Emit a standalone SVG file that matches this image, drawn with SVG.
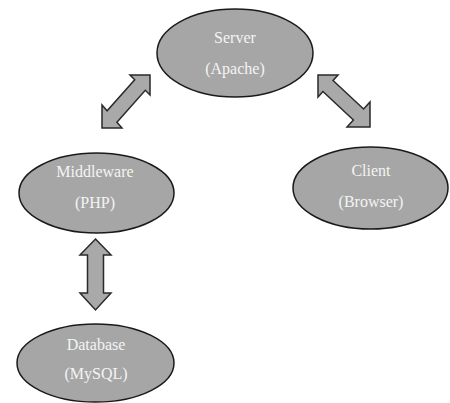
<svg xmlns="http://www.w3.org/2000/svg" width="450" height="403" viewBox="0 0 450 403">
<style>
.node ellipse{fill:#a6a6a6;stroke:#1a1a1a;stroke-width:1.5}
.node text{font-family:"Liberation Serif","Times New Roman",serif;font-size:16px;fill:#f4f4f4;text-anchor:middle}
.arrow{fill:#a9a9a9;stroke:#2a2a2a;stroke-width:1.5;stroke-linejoin:miter}
</style>
<rect width="450" height="403" fill="#ffffff"/>
<g id="connectors">
<polygon class="arrow" points="150,75 150,95 145.3,90.3 116.9,122.2 122,128 102,128 102,105 107.1,110.8 134.7,79.7 130,75"/>
<polygon class="arrow" points="318,75 338,75 333.05,80.45 363.6,109 370,102 370,127 347,127 353.4,120 322.95,91.55 318,97"/>
<polygon class="arrow" points="95.5,239 111,255 103.5,255 103.5,293 111,293 95.5,310 80,293 87.5,293 87.5,255 80,255"/>
</g>
<g id="server" class="node">
<ellipse cx="235" cy="53" rx="78" ry="44"/>
<text x="235" y="43">Server</text>
<text x="235" y="74">(Apache)</text>
</g>
<g id="middleware" class="node">
<ellipse cx="96.5" cy="193" rx="77.5" ry="40"/>
<text x="95" y="177">Middleware</text>
<text x="95" y="208">(PHP)</text>
</g>
<g id="client" class="node">
<ellipse cx="370.5" cy="188" rx="77.5" ry="41"/>
<text x="371" y="176">Client</text>
<text x="371" y="207">(Browser)</text>
</g>
<g id="database" class="node">
<ellipse cx="95.5" cy="363" rx="78.5" ry="39"/>
<text x="96" y="350">Database</text>
<text x="96" y="379">(MySQL)</text>
</g>
</svg>
